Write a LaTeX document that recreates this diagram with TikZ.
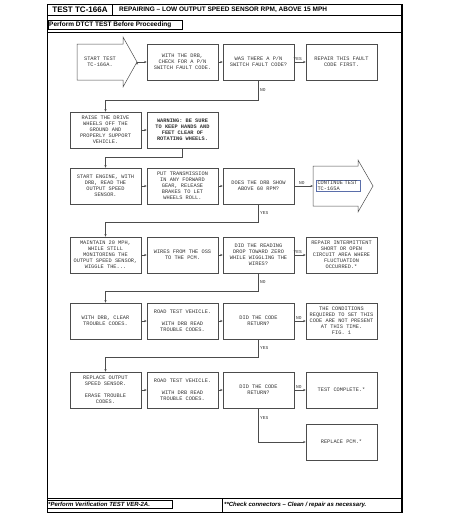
\documentclass[tikz,border=0pt]{standalone}
\usepackage{fontspec}
\setmainfont{Liberation Sans}
\newfontfamily\boxfont{Liberation Mono}
\usepackage{tikz}
\usetikzlibrary{arrows.meta}

\definecolor{linkblue}{RGB}{90,110,170}
\tikzset{
  box/.style={draw=black!70, line width=0.5pt, minimum width=71pt, minimum height=36pt,
    inner sep=1pt, align=center, text=black!80, font=\boxfont\fontsize{5.3}{5.9}\selectfont},
  txt/.style={inner sep=1pt, align=center, text=black!80, font=\boxfont\fontsize{5.3}{5.9}\selectfont},
  lbl/.style={inner sep=1.5pt, text=black!80, font=\boxfont\fontsize{4.5}{5}\selectfont},
  link/.style={-{Stealth[length=2.5pt,width=2pt]}, draw=black!70, line width=0.45pt},
  hdr/.style={inner sep=0pt, anchor=west, font=\bfseries\fontsize{6.5}{7}\selectfont},
  foot/.style={inner sep=0pt, anchor=west, font=\bfseries\itshape\fontsize{6}{7}\selectfont},
}

\begin{document}
\begin{tikzpicture}[x=1pt, y=-1pt]
\useasboundingbox (0,0) rectangle (474,525);

% page frame
\begin{scope}[line width=0.6pt]
    \draw (47,4) rectangle (402,512);
    \draw [line width=1.1pt] (402,4) -- (402,512);
    \draw (47,15) -- (402,15);
    \draw (47,32) -- (402,32);
    \draw (112,4) -- (112,15);
    \draw (47,498) -- (402,498);
    \draw (222,498) -- (222,512);
    \draw [line width=0.3pt] (48,20) rectangle (182,29);
    \draw [line width=0.3pt] (47,500) rectangle (172,508);
\end{scope}
\node [inner sep=0pt, font=\bfseries\fontsize{8}{9}\selectfont] (t0) at (80,9.7) {TEST TC-166A};
\node [hdr] (t1) at (119,9.7) {REPAIRING -- LOW OUTPUT SPEED SENSOR RPM, ABOVE 15 MPH};
\node [hdr] (t2) at (49,24.7) {Perform DTCT TEST Before Proceeding};
\node [foot] (f1) at (48,504.5) {*Perform Verification TEST VER-2A.};
\node [foot] (f2) at (224,505) {**Check connectors -- Clean / repair as necessary.};

% flow chart
\begin{scope}
    \draw [black!70, line width=0.5pt] (77,44) -- (123,44) -- (123,37) -- (137,62)
        -- (123,87) -- (123,80) -- (77,80) -- cycle;
    \node [txt] (a) at (100,62) {START TEST\\TC-166A.};
    \coordinate (at) at (137,62);
    \node [box] (b) at (182.5,62) {WITH THE DRB,\\CHECK FOR A P/N\\SWITCH FAULT CODE.};
    \node [box] (c) at (258.5,62) {WAS THERE A P/N\\SWITCH FAULT CODE?};
    \node [box] (d) at (341.5,62) {REPAIR THIS FAULT\\CODE FIRST.};

    \node [box] (e) at (105.5,130) {RAISE THE DRIVE\\WHEELS OFF THE\\GROUND AND\\PROPERLY SUPPORT\\VEHICLE.};
    \node [box, font=\boxfont\bfseries\fontsize{5.3}{5.9}\selectfont] (f) at (182.5,130)
        {WARNING: BE SURE\\TO KEEP HANDS AND\\FEET CLEAR OF\\ROTATING WHEELS.};

    \node [box] (g) at (105.5,186) {START ENGINE, WITH\\DRB, READ THE\\OUTPUT SPEED\\SENSOR.};
    \node [box] (h) at (182.5,186) {PUT TRANSMISSION\\IN ANY FORWARD\\GEAR, RELEASE\\BRAKES TO LET\\WHEELS ROLL.};
    \node [box] (i) at (258.5,186) {DOES THE DRB SHOW\\ABOVE 60 RPM?};
    \draw [black!70, line width=0.5pt] (313,166) -- (358,166) -- (358,160) -- (373,186)
        -- (358,212) -- (358,206) -- (313,206) -- cycle;
    \node [txt, draw=linkblue, line width=0.4pt, align=left, text width=42pt] (j) at (338.5,185.5)
        {CONTINUE TEST\\TC-165A};
    \coordinate (jw) at (313,186);

    \node [box] (k) at (105.5,255) {MAINTAIN 20 MPH,\\WHILE STILL\\MONITORING THE\\OUTPUT SPEED SENSOR,\\WIGGLE THE...};
    \node [box] (l) at (182.5,255) {WIRES FROM THE OSS\\TO THE PCM.};
    \node [box] (m) at (258.5,255) {DID THE READING\\DROP TOWARD ZERO\\WHILE WIGGLING THE\\WIRES?};
    \node [box] (n) at (341.5,255) {REPAIR INTERMITTENT\\SHORT OR OPEN\\CIRCUIT AREA WHERE\\FLUCTUATION\\OCCURRED.*};

    \node [box] (o) at (105.5,321) {WITH DRB, CLEAR\\TROUBLE CODES.};
    \node [box] (p) at (182.5,321) {ROAD TEST VEHICLE.\\[5.9pt]WITH DRB READ\\TROUBLE CODES.};
    \node [box] (q) at (258.5,321) {DID THE CODE\\RETURN?};
    \node [box] (r) at (341.5,321) {THE CONDITIONS\\REQUIRED TO SET THIS\\CODE ARE NOT PRESENT\\AT THIS TIME.\\FIG. 1};

    \node [box] (s) at (105.5,390) {REPLACE OUTPUT\\SPEED SENSOR.\\[5.9pt]ERASE TROUBLE\\CODES.};
    \node [box] (t) at (182.5,390) {ROAD TEST VEHICLE.\\[5.9pt]WITH DRB READ\\TROUBLE CODES.};
    \node [box] (u) at (258.5,390) {DID THE CODE\\RETURN?};
    \node [box] (v) at (341.5,390) {TEST COMPLETE.*};

    \node [box] (w) at (341.5,442) {REPLACE PCM.*};

    \path [link] (at) edge (b);
    \path [link] (b) edge (c);
    \path [link] (c) edge node [lbl, above, pos=0.3] {YES} (d);
    \draw [link] (c.south) -- ++(0,20) node [lbl, right, midway] {NO} -| (e.north);
    \path [link] (e) edge (f);
    \draw [link] (f.south) -- ++(0,9) -| (g.north);
    \path [link] (g) edge (h);
    \path [link] (h) edge (i);
    \path [link] (i) edge node [lbl, above, pos=0.4] {NO} (jw);
    \draw [link] (i.south) -- ++(0,18) node [lbl, right, midway] {YES} -| (k.north);
    \path [link] (k) edge (l);
    \path [link] (l) edge (m);
    \path [link] (m) edge node [lbl, above, pos=0.3] {YES} (n);
    \draw [link] (m.south) -- ++(0,18) node [lbl, right, midway] {NO} -| (o.north);
    \path [link] (o) edge (p);
    \path [link] (p) edge (q);
    \path [link] (q) edge node [lbl, above, pos=0.4] {NO} (r);
    \draw [link] (q.south) -- ++(0,18) node [lbl, right, midway] {YES} -| (s.north);
    \path [link] (s) edge (t);
    \path [link] (t) edge (u);
    \path [link] (u) edge node [lbl, above, pos=0.4] {NO} (v);
    \draw [link] (u.south) |- node [lbl, right, pos=0.15] {YES} (w.west);
\end{scope}
\end{tikzpicture}
\end{document}
